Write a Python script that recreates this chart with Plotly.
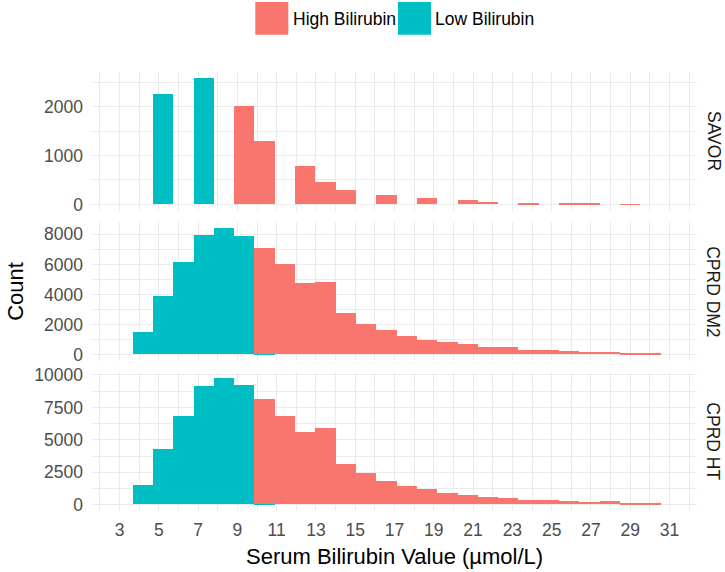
import plotly.graph_objects as go
from plotly.subplots import make_subplots

# ---------------- data ----------------
panels = ["SAVOR", "CPRD DM2", "CPRD HT"]
groups = ["High Bilirubin", "Low Bilirubin"]
bin_left = 3.666      # left edge of first histogram bin (µmol/L)
bin_width = 1.034     # histogram bin width (µmol/L)

savor_low = [0, 2252, 0, 2580, 0, 0, 0, 0, 0, 0, 0, 0, 0,
             0, 0, 0, 0, 0, 0, 0, 0, 0, 0, 0, 0, 0]
savor_high = [0, 0, 0, 0, 0, 2018, 1307, 0, 787, 466, 301, 0, 191,
              0, 130, 0, 82, 48, 0, 27, 0, 27, 14, 0, 8, 0]

dm2_low = [1482, 3894, 6133, 7947, 8392, 7861, 30, 0, 0, 0, 0, 0, 0,
           0, 0, 0, 0, 0, 0, 0, 0, 0, 0, 0, 0, 0]
dm2_high = [0, 0, 0, 0, 0, 0, 7034, 6040, 4758, 4824, 2764, 2055, 1635,
            1256, 970, 837, 690, 490, 465, 310, 290, 220, 175, 155, 95, 35]

ht_low = [1505, 4235, 6821, 9105, 9720, 9205, 35, 0, 0, 0, 0, 0, 0,
          0, 0, 0, 0, 0, 0, 0, 0, 0, 0, 0, 0, 0]
ht_high = [0, 0, 0, 0, 0, 0, 8093, 6798, 5614, 5921, 3140, 2397, 1830,
           1418, 1160, 850, 722, 567, 515, 309, 309, 258, 206, 258, 129, 52]

x_ticks = list(range(3, 32, 2))
y_dticks = [1000, 2000, 2500]

colors = {"High Bilirubin": "#F8766D", "Low Bilirubin": "#00BFC4"}
x_title = "Serum Bilirubin Value (µmol/L)"
y_title = "Count"

series = [(savor_low, savor_high), (dm2_low, dm2_high), (ht_low, ht_high)]

# ---------------- figure ----------------
W, H = 725, 572
PL, PR, PT, PB = 91.7, 696.7, 72.3, 510.7


def px_x(x):
    return (x - PL) / (PR - PL)


def px_y(y):
    return (PB - y) / (PB - PT)


fig = make_subplots(rows=3, cols=1, shared_xaxes=True,
                    vertical_spacing=11.4 / (PB - PT))

n = len(savor_low)
centers = [bin_left + bin_width * (i + 0.5) for i in range(n)]

FONT = "Liberation Sans, Arial, sans-serif"
GRID = "#EBEBEB"

for r, (low, high) in enumerate(series, start=1):
    fig.add_trace(go.Bar(x=centers, y=low, width=bin_width,
                         marker=dict(color=colors["Low Bilirubin"], line=dict(width=0)),
                         name="Low Bilirubin", showlegend=False), row=r, col=1)
    fig.add_trace(go.Bar(x=centers, y=high, width=bin_width,
                         marker=dict(color=colors["High Bilirubin"], line=dict(width=0)),
                         name="High Bilirubin", showlegend=False), row=r, col=1)
    ymax = max(a + b for a, b in zip(low, high))
    fig.update_yaxes(range=[-0.05 * ymax, 1.05 * ymax], dtick=y_dticks[r - 1], tick0=0,
                     tickformat="d",
                     showgrid=True, gridcolor=GRID, gridwidth=1.4, zeroline=False,
                     minor=dict(dtick=y_dticks[r - 1] / 2, tick0=0, showgrid=True,
                                gridcolor=GRID, gridwidth=0.9),
                     tickfont=dict(family=FONT, size=17.5, color="#4D4D4D"),
                     ticks="", ticklabelstandoff=8, showline=False,
                     row=r, col=1)
    fig.update_xaxes(range=[1.6, 32.4], tickvals=x_ticks,
                     showgrid=True, gridcolor=GRID, gridwidth=1.4, zeroline=False,
                     minor=dict(tickvals=[v for v in range(2, 33)], showgrid=True,
                                gridcolor=GRID, gridwidth=0.9),
                     tickfont=dict(family=FONT, size=17.5, color="#4D4D4D"),
                     ticks="", ticklabelstandoff=6, showline=False,
                     row=r, col=1)
    # facet strip label
    fig.add_annotation(text=panels[r - 1], xref="paper",
                       yref=f"y{'' if r == 1 else r} domain",
                       x=px_x(713), y=0.5, xanchor="center", yanchor="middle",
                       textangle=90, showarrow=False,
                       font=dict(family=FONT, size=17.5, color="#1A1A1A"))

# axis titles
fig.add_annotation(text=x_title, xref="paper", yref="paper",
                   x=0.5, y=px_y(556.5), xanchor="center", yanchor="middle",
                   showarrow=False, font=dict(family=FONT, size=22, color="#000000"))
fig.add_annotation(text=y_title, xref="paper", yref="paper",
                   x=px_x(15), y=0.5, xanchor="center", yanchor="middle",
                   textangle=-90, showarrow=False,
                   font=dict(family=FONT, size=22, color="#000000"))

# legend (drawn at top like ggplot's legend.position = "top")
legend_items = [("High Bilirubin", 255, 290.5), ("Low Bilirubin", 397.7, 433)]
for name, kx, tx in legend_items:
    fig.add_shape(type="rect", xref="paper", yref="paper",
                  x0=px_x(kx), x1=px_x(kx + 33), y0=px_y(35), y1=px_y(2.3),
                  fillcolor=colors[name], line=dict(width=0))
    fig.add_annotation(text=name, xref="paper", yref="paper",
                       x=px_x(tx), y=px_y(19), xanchor="left", yanchor="middle",
                       showarrow=False, font=dict(family=FONT, size=17.5, color="#000000"))

fig.update_layout(width=W, height=H, barmode="stack", bargap=0,
                  plot_bgcolor="white", paper_bgcolor="white",
                  margin=dict(l=PL, r=W - PR, t=PT, b=H - PB, pad=0),
                  showlegend=False)

fig.write_html("out.html",
               config={"displayModeBar": False},
               post_script="document.body.style.margin='0px';"
                           "document.documentElement.style.overflow='hidden';")
